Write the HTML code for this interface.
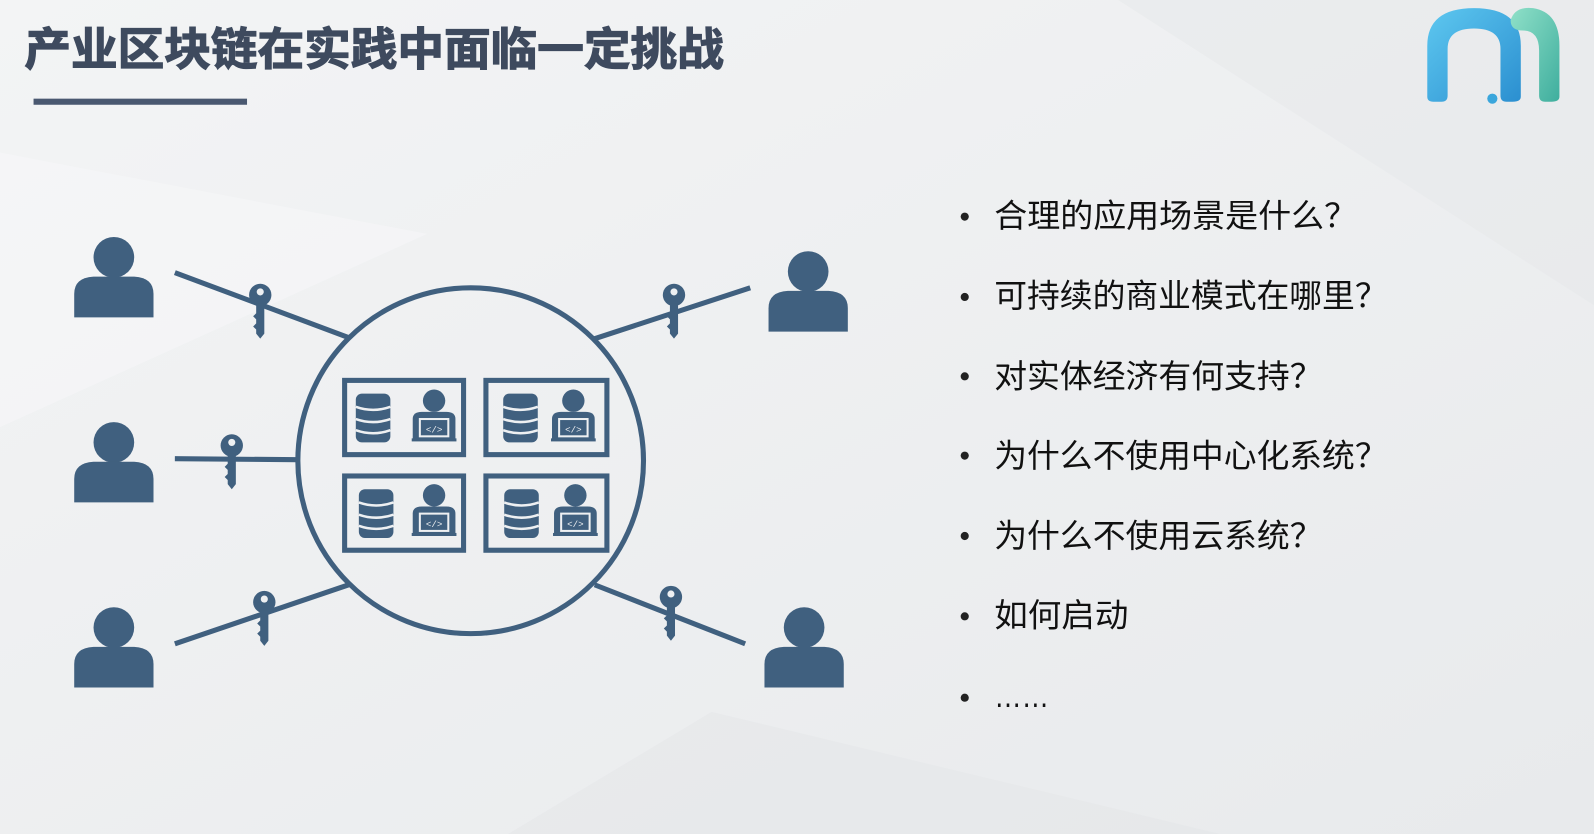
<!DOCTYPE html>
<html><head><meta charset="utf-8"><style>
html,body{margin:0;padding:0;width:1594px;height:834px;overflow:hidden;background:#eef0f2;}
svg{display:block}
</style></head><body>
<svg width="1594" height="834" viewBox="0 0 1568 820" preserveAspectRatio="none" xmlns="http://www.w3.org/2000/svg">
<defs>
<linearGradient id="bg" x1="0" y1="0" x2="1" y2="1"><stop offset="0" stop-color="#f3f4f5"/><stop offset="1" stop-color="#e8eaec"/></linearGradient>
<linearGradient id="lb" x1="0" y1="0" x2="1" y2="1"><stop offset="0" stop-color="#5ec8f0"/><stop offset="1" stop-color="#2b8fd0"/></linearGradient>
<linearGradient id="lg" x1="0" y1="0" x2="1" y2="1"><stop offset="0" stop-color="#8fe0c8"/><stop offset="1" stop-color="#3fae9e"/></linearGradient>
<g id="person"><circle cx="0" cy="-24" r="20"/><path d="M-39 35 V12 Q-39 -4 -20 -5 H20 Q39 -4 39 12 V35 Z"/></g>
<g id="key"><circle cx="0" cy="0" r="11"/><circle cx="0" cy="-3" r="3.5" fill="#eef0f2"/><path d="M-4 8 H4 V38 L0 43 L-4 38 V34 L-7 31 L-4 28 V24 L-7 21 L-4 18 Z"/></g>
<g id="db"><rect x="-17" y="-24" width="34" height="48" rx="6"/><path d="M-17 -11 Q0 -5 17 -11 M-17 1 Q0 7 17 1 M-17 12 Q0 18 17 12" stroke="#eef0f2" stroke-width="2.5" fill="none"/></g>
<g id="dev"><circle cx="0" cy="-16" r="11"/><path d="M-21 22 V2 Q-21 -5 -12 -5 H12 Q21 -5 21 2 V22 Z"/><rect x="-15" y="1" width="30" height="19" fill="#eef0f2"/><rect x="-13" y="3" width="26" height="15"/><text x="0" y="15" font-family="Liberation Mono,monospace" font-size="9" fill="#eef0f2" text-anchor="middle">&lt;/&gt;</text><rect x="-22" y="21" width="44" height="3"/></g>
</defs>
<rect width="1568" height="820" fill="url(#bg)"/>
<polygon points="0,150 420,230 0,420" fill="#f6f7f8" opacity="0.6"/>
<polygon points="1100,0 1568,300 1568,0" fill="#e6e8ea" opacity="0.5"/>
<polygon points="700,700 1200,820 500,820" fill="#e4e6e8" opacity="0.5"/>
<text x="24" y="64" font-family="Liberation Sans,Noto Sans CJK SC,sans-serif" font-weight="bold" font-size="44" fill="#3e4a5e" stroke="#3e4a5e" stroke-width="1.2" textLength="688" lengthAdjust="spacingAndGlyphs">产业区块链在实践中面临一定挑战</text>
<rect x="33" y="97" width="210" height="6" fill="#4a5870"/>
<g fill="#40607f">
<g stroke="#40607f" stroke-width="5" fill="none">
<circle cx="463" cy="453" r="170"/>
<line x1="172" y1="268" x2="343" y2="332"/>
<line x1="172" y1="451" x2="293" y2="452"/>
<line x1="172" y1="633" x2="343" y2="575"/>
<line x1="585" y1="333" x2="738" y2="283"/>
<line x1="585" y1="575" x2="733" y2="633"/>
<rect x="339" y="374" width="117" height="73"/>
<rect x="478" y="374" width="119" height="73"/>
<rect x="339" y="468" width="117" height="73"/>
<rect x="478" y="468" width="119" height="73"/>
</g>
<use href="#person" x="112" y="277"/>
<use href="#person" x="112" y="459"/>
<use href="#person" x="112" y="641"/>
<use href="#person" x="795" y="291"/>
<use href="#person" x="791" y="641"/>
<use href="#key" x="256" y="290"/>
<use href="#key" x="228" y="438"/>
<use href="#key" x="260" y="592"/>
<use href="#key" x="663" y="290"/>
<use href="#key" x="660" y="587"/>
<use href="#db" x="367" y="411"/><use href="#dev" x="427" y="410"/>
<use href="#db" x="512" y="411"/><use href="#dev" x="564" y="410"/>
<use href="#db" x="370" y="505"/><use href="#dev" x="427" y="503"/>
<use href="#db" x="513" y="505"/><use href="#dev" x="566" y="503"/>
</g>
<g font-family="Liberation Sans,Noto Sans CJK SC,sans-serif" font-size="32" fill="#111">
<g fill="#222"><circle cx="949" cy="213" r="4"/><circle cx="949" cy="292" r="4"/><circle cx="949" cy="370" r="4"/><circle cx="949" cy="448" r="4"/><circle cx="949" cy="527" r="4"/><circle cx="949" cy="606" r="4"/><circle cx="949" cy="686" r="4"/></g>
<text x="978" y="223" textLength="357" lengthAdjust="spacingAndGlyphs">合理的应用场景是什么？</text>
<text x="978" y="302" textLength="387" lengthAdjust="spacingAndGlyphs">可持续的商业模式在哪里？</text>
<text x="978" y="381" textLength="323" lengthAdjust="spacingAndGlyphs">对实体经济有何支持？</text>
<text x="978" y="459" textLength="387" lengthAdjust="spacingAndGlyphs">为什么不使用中心化系统？</text>
<text x="978" y="538" textLength="323" lengthAdjust="spacingAndGlyphs">为什么不使用云系统？</text>
<text x="978" y="616" textLength="132" lengthAdjust="spacingAndGlyphs">如何启动</text>
<text x="978" y="695" textLength="54" lengthAdjust="spacingAndGlyphs">……</text>
</g>
<path d="M1404 95 V45 Q1404 8 1450 8 Q1496 8 1496 45 V95 Q1496 100 1488 100 H1482 Q1476 100 1476 94 V48 Q1476 28 1450 28 Q1424 28 1424 48 V94 Q1424 100 1418 100 H1410 Q1404 100 1404 95 Z" fill="url(#lb)"/>
<circle cx="1468" cy="97" r="5" fill="#3aa6dc"/>
<path d="M1486 20 Q1490 6 1508 8 Q1534 12 1534 45 V95 Q1534 100 1526 100 H1520 Q1514 100 1514 94 V50 Q1514 30 1498 30 Q1486 30 1486 20 Z" fill="url(#lg)"/>
</svg>
</body></html>
